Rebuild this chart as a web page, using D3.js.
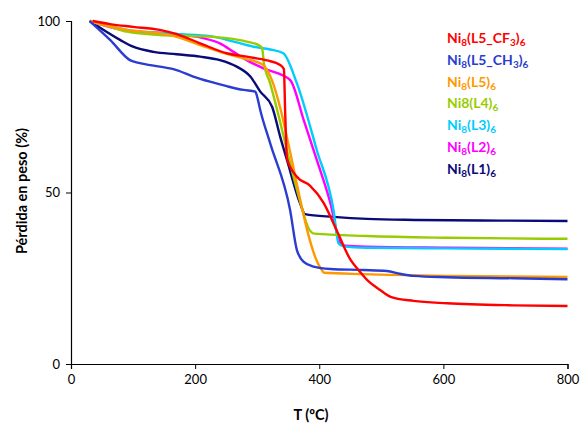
<!DOCTYPE html>
<html><head><meta charset="utf-8">
<script src="https://cdn.jsdelivr.net/npm/d3@7"></script>
<style>
body{margin:0;background:#fff;}
text{font-family:Lato, "Open Sans", sans-serif;}
</style></head>
<body><svg id="c" width="581" height="425"></svg>
<script>
// ---- data ----
const xTicks = [0, 200, 400, 600, 800];
const yTicks = [0, 50, 100];

const tempL1 = [30, 79, 100, 133, 170, 208, 240, 267, 289, 305, 324, 337, 348, 369, 377, 423, 477, 558, 692, 800];
const massL1 = [100, 94.5, 92.5, 91, 90.3, 89.6, 88.6, 86.7, 83.8, 79.4, 75, 66.3, 59.5, 46.9, 43.7, 42.9, 42.3, 42, 41.8, 41.7];

const tempL2 = [30, 90, 170, 213, 240, 262, 283, 310, 353, 375, 396, 418, 434, 442, 477, 606, 800];
const massL2 = [100, 97.2, 96.2, 95, 93.5, 91, 88.6, 86.2, 82.8, 71.1, 59.5, 46.9, 35.2, 34.5, 34.2, 33.9, 33.6];

const tempL3 = [30, 90, 170, 224, 262, 294, 321, 342, 364, 396, 423, 431, 439, 477, 606, 800];
const massL3 = [100, 97.4, 96.2, 95.6, 94, 92.5, 91.7, 90.6, 81.8, 62.4, 44.9, 35.2, 34.3, 33.9, 33.7, 33.5];

const tempL4 = [30, 63, 90, 143, 197, 251, 283, 305, 308, 311, 320, 358, 369, 383, 392, 477, 606, 800];
const massL4 = [100, 98.3, 96.9, 95.9, 95.6, 95, 94, 92.7, 92, 87.5, 82.3, 55, 47.5, 39.5, 38, 37.3, 36.8, 36.5];

const tempL5 = [30, 90, 143, 170, 208, 240, 278, 310, 316, 402, 408, 471, 606, 800];
const massL5 = [100, 97.4, 96.4, 95.4, 93, 91, 89.1, 87.2, 85.7, 28, 26.6, 26.2, 25.7, 25.4];

const tempCH3 = [30, 63, 95, 111, 143, 170, 197, 224, 251, 278, 297, 300, 305, 321, 353, 364, 375, 391, 418, 471, 509, 530, 552, 606, 713, 800];
const massCH3 = [100, 94.5, 88.6, 87.7, 86.7, 85.7, 83.8, 82.3, 81, 79.9, 79.4, 77.9, 74, 64.3, 44.9, 33.2, 29.8, 28.4, 27.7, 27.4, 27.1, 26.3, 25.7, 25.3, 25, 24.7];

const tempCF3 = [35, 63, 100, 143, 170, 208, 251, 283, 316, 337, 343, 345, 348, 364, 385, 407, 428, 450, 465, 477, 498, 515, 552, 606, 713, 800];
const massCF3 = [100, 99.1, 98.3, 97.4, 96.2, 93.5, 90.6, 89.6, 88.5, 87.2, 86, 74, 60, 54.6, 52, 47, 39, 30.5, 27, 24.5, 21.6, 19.6, 18.4, 17.7, 17.1, 16.9];

// legend entries: [main, sub, main, sub, ...] pieces
const seriesNames = ["L1", "L2", "L3", "L4", "L5", "L5_CH3", "L5_CF3"];
const seriesColors = ["#0a0a78", "#ff00ff", "#00ccff", "#99cc00", "#ff9900", "#2b3dd0", "#ff0000"];
const legendPieces = [
  [["Ni",0],["8",1],["(L5_CF",0],["3",1],[")",0],["6",1]],
  [["Ni",0],["8",1],["(L5_CH",0],["3",1],[")",0],["6",1]],
  [["Ni",0],["8",1],["(L5)",0],["6",1]],
  [["Ni8(L4)",0],["6",1]],
  [["Ni",0],["8",1],["(L3)",0],["6",1]],
  [["Ni",0],["8",1],["(L2)",0],["6",1]],
  [["Ni",0],["8",1],["(L1)",0],["6",1]]
];
const legendColors = ["#ff0000", "#2b3dd0", "#ff9900", "#99cc00", "#00ccff", "#ff00ff", "#0a0a78"];

const xTitle = "T (ºC)";
const yTitle = "Pérdida en peso (%)";

// ---- chart ----
const svg = d3.select("#c");
const x = d3.scaleLinear().domain([0, 800]).range([71, 567.5]);
const y = d3.scaleLinear().domain([0, 100]).range([364, 21]);

const temps = [tempL1, tempL2, tempL3, tempL4, tempL5, tempCH3, tempCF3];
const masses = [massL1, massL2, massL3, massL4, massL5, massCH3, massCF3];

const line = d3.line().x(d => x(d[0])).y(d => y(d[1])).curve(d3.curveMonotoneX);
temps.forEach((t, i) => {
  const pts = t.map((v, j) => [v, masses[i][j]]);
  svg.append("path").attr("d", line(pts)).attr("fill", "none")
    .attr("stroke", seriesColors[i]).attr("stroke-width", 2.4)
    .attr("stroke-linejoin", "round");
});

// axes
const xAxis = svg.append("g").attr("transform", `translate(0,${y(0)})`)
  .call(d3.axisBottom(x).tickValues(xTicks).tickSize(5).tickPadding(6).tickFormat(d3.format("d")));
const yAxis = svg.append("g").attr("transform", `translate(${x(0)},0)`)
  .call(d3.axisLeft(y).tickValues(yTicks).tickSize(5).tickPadding(6).tickFormat(d3.format("d")));
[xAxis, yAxis].forEach(a => {
  a.select(".domain").attr("stroke", "#000").attr("stroke-width", 1.2);
  a.selectAll(".tick line").attr("stroke", "#000");
  a.selectAll("text").attr("font-size", 13).attr("fill", "#000").attr("font-family", "Lato, sans-serif");
});

// titles
svg.append("text").attr("x", 311).attr("y", 420).attr("text-anchor", "middle")
  .attr("font-size", 14.5).attr("font-weight", "bold").text(xTitle);
svg.append("text").attr("transform", "translate(27,191) rotate(-90)").attr("text-anchor", "middle")
  .attr("font-size", 14.5).attr("font-weight", "bold").text(yTitle);

// legend
legendPieces.forEach((pieces, i) => {
  const t = svg.append("text").attr("x", 447).attr("y", 43 + i * 21.8)
    .attr("font-size", 14).attr("font-weight", "bold").attr("fill", legendColors[i]);
  let shifted = false;
  pieces.forEach(([s, sub]) => {
    const ts = t.append("tspan").text(s);
    if (sub) { ts.attr("font-size", 10); if (!shifted) { ts.attr("dy", 3); shifted = true; } }
    else { if (shifted) { ts.attr("dy", -3); shifted = false; } }
  });
});
</script></body></html>
